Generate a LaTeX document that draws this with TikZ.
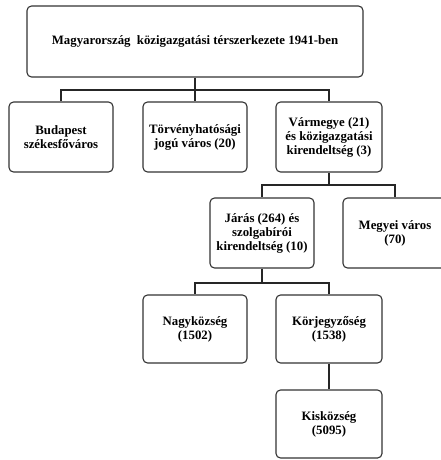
\documentclass[tikz,border=0pt]{standalone}
\usepackage{fontspec}
\setmainfont{Liberation Serif}

\tikzstyle{unit}=[draw=black!80, line width=1.1pt, rounded corners=4.5pt, align=center, inner sep=0pt, font=\bfseries\fontsize{12.8}{14}\selectfont]
\tikzstyle{office}=[unit, minimum width=104pt, minimum height=70pt]
\tikzstyle{link}=[black!85, line width=2pt]

\begin{document}
\begin{tikzpicture}[x=1pt, y=-1pt]
					\useasboundingbox (0,0) rectangle (440,460);

					\node[unit, minimum width=336pt, minimum height=71pt] (orszag) at (195,41.5) {Magyarország~ közigazgatási térszerkezete 1941-ben};

					\node[office] (budapest) at (61,137) {Budapest\\székesfőváros};
					\node[office] (torveny) at (195,137) {Törvényhatósági\\jogú város (20)};
					\node[office, minimum width=106pt] (varmegye) at (329,137) {Vármegye (21)\\és közigazgatási\\kirendeltség (3)};

					\node[office] (jaras) at (262,233) {Járás (264) és\\szolgabírói\\kirendeltség (10)};
					\node[office] (megyei) at (395,233) {Megyei város\\(70)};

					\node[office, minimum height=68pt] (nagy) at (195,329) {Nagyközség\\(1502)};
					\node[office, minimum width=106pt, minimum height=68pt] (korj) at (329,329) {Körjegyzőség\\(1538)};

					\node[office, minimum width=106pt, minimum height=68pt] (kis) at (329,424) {Kisközség\\(5095)};

					\coordinate (sor1) at (195,90);
					\coordinate (sor2) at (329,185);
					\coordinate (sor3) at (262,283);

					\draw[link] (orszag.south) -- (sor1);
					\draw[link] (sor1) -| (budapest.north);
					\draw[link] (sor1) -- (torveny.north);
					\draw[link] (sor1) -| (varmegye.north);

					\draw[link] (varmegye.south) -- (sor2);
					\draw[link] (sor2) -| (jaras.north);
					\draw[link] (sor2) -| (megyei.north);

					\draw[link] (jaras.south) -- (sor3);
					\draw[link] (sor3) -| (nagy.north);
					\draw[link] (sor3) -| (korj.north);

					\draw[link] (korj.south) -- (kis.north);
				\end{tikzpicture}
\end{document}
